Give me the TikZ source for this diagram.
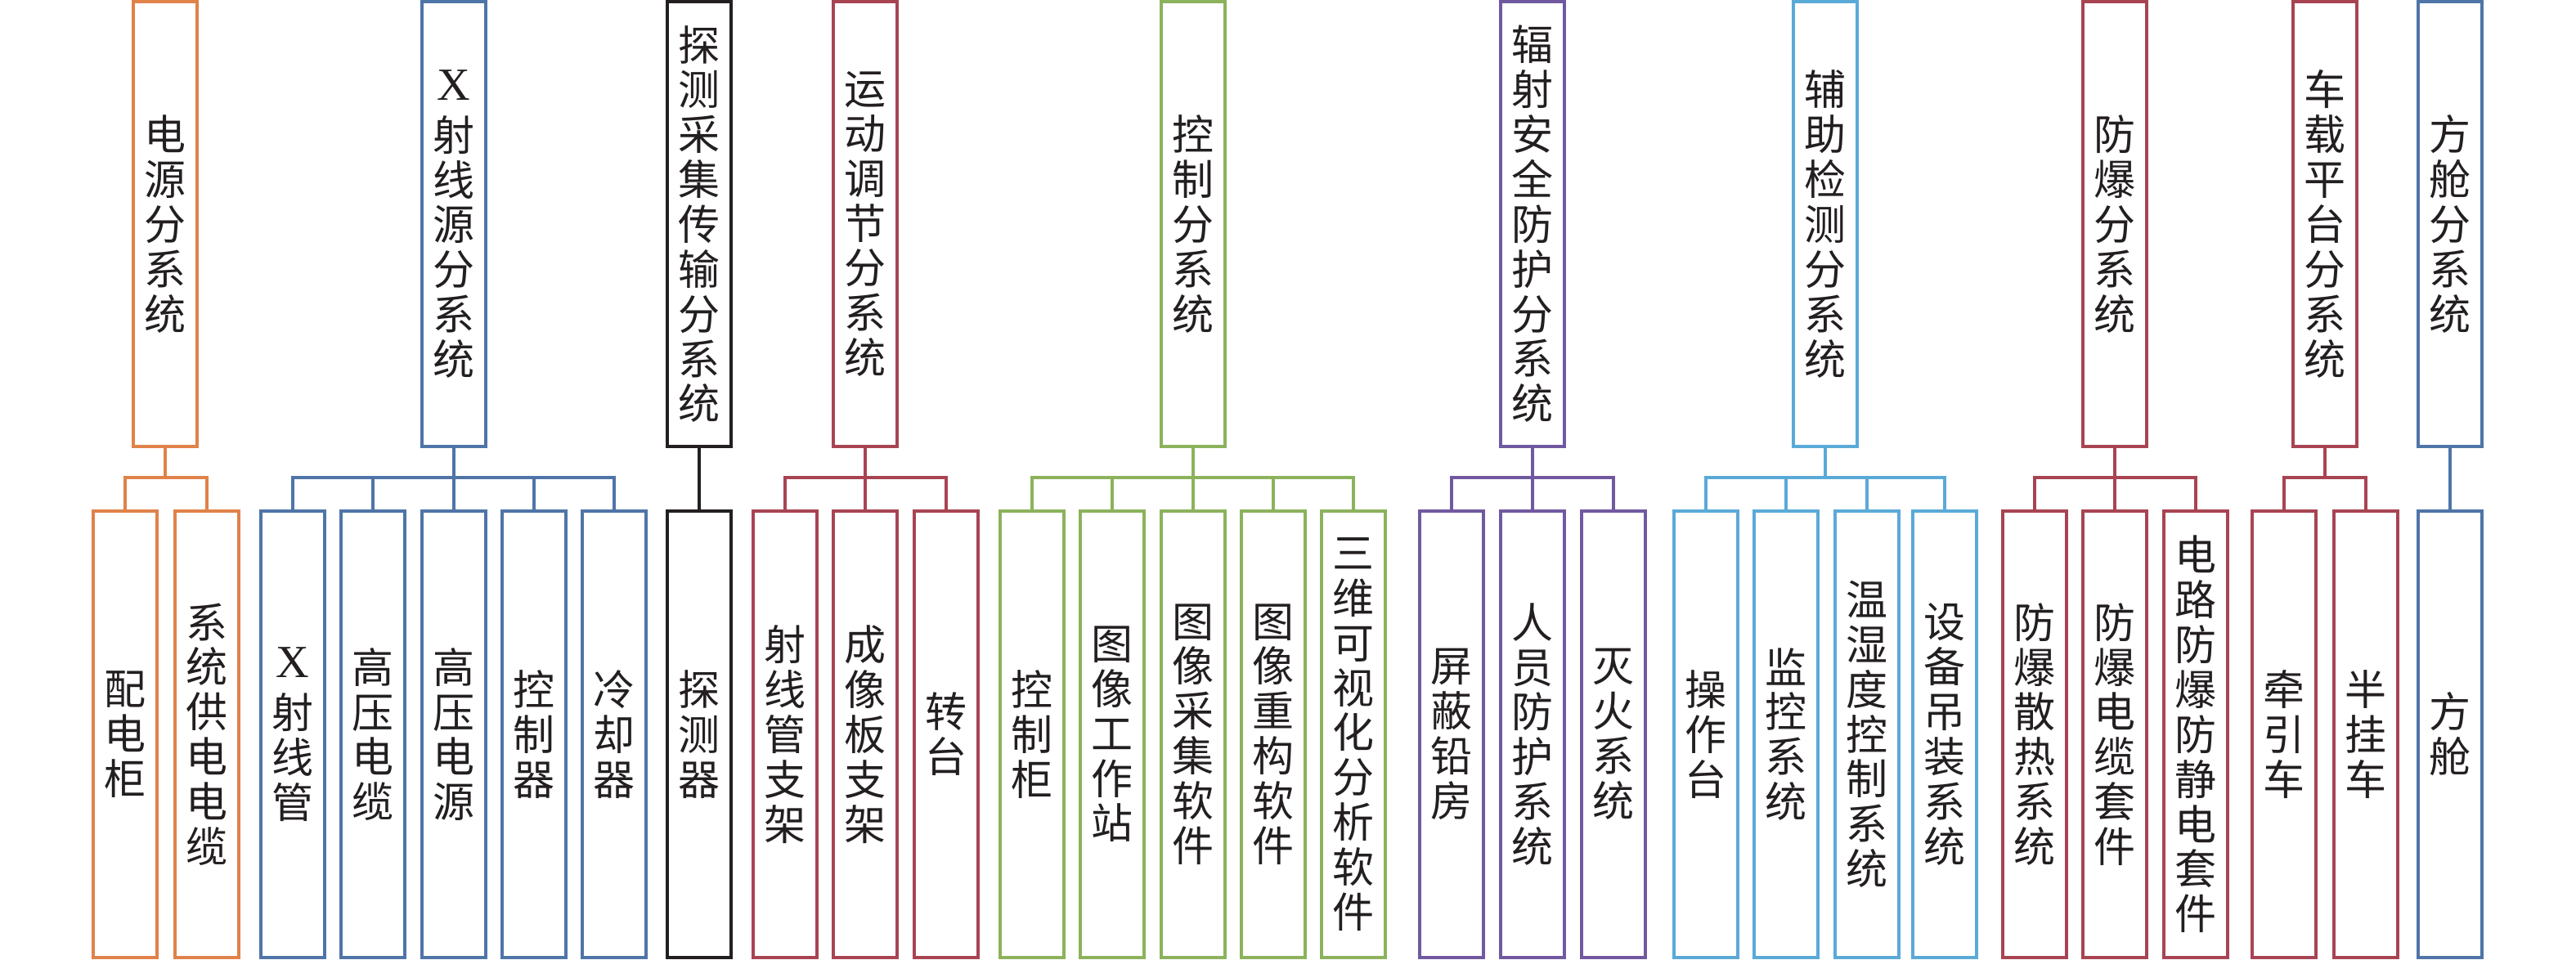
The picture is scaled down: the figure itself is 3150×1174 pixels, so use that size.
\documentclass[tikz,border=0pt]{standalone}
\usepackage{fontspec}
\setmainfont{Liberation Serif}
\newfontfamily\cjk{Noto Sans CJK SC}
\definecolor{orng}{HTML}{E0824A}
\definecolor{blu}{HTML}{4F74A8}
\definecolor{crim}{HTML}{A84452}
\definecolor{grn}{HTML}{8CB25C}
\definecolor{purp}{HTML}{7059A0}
\definecolor{sky}{HTML}{5AAAD8}
\definecolor{ink}{HTML}{231F20}
\tikzset{
  box/.style={draw, line width=1.1pt, minimum width=0.78cm, inner sep=0pt, align=center,
    font=\cjk\fontsize{14.5}{15.6}\selectfont, text=ink},
  topbox/.style={box, minimum height=5.44cm},
  subbox/.style={box, minimum height=5.46cm},
  link/.style={line width=1.1pt}
}

\begin{document}
\begin{tikzpicture}[x=0.01cm, y=-0.01cm]
	\useasboundingbox (0,0) rectangle (3150,1174);

	%%%%% subsystems %%%%%
	\node[topbox, draw=orng] (pw)  at (202,274)  {电\\源\\分\\系\\统};
	\node[topbox, draw=blu]  (xr)  at (555,274)  {\textrm{\fontsize{16}{15.6}\selectfont X}\\[2pt]射\\线\\源\\分\\系\\统};
	\node[topbox, draw=ink]  (det) at (855,274)  {探\\测\\采\\集\\传\\输\\分\\系\\统};
	\node[topbox, draw=crim] (mot) at (1058,274) {运\\动\\调\\节\\分\\系\\统};
	\node[topbox, draw=grn]  (ctl) at (1459,274) {控\\制\\分\\系\\统};
	\node[topbox, draw=purp] (rad) at (1874,274) {辐\\射\\安\\全\\防\\护\\分\\系\\统};
	\node[topbox, draw=sky]  (aux) at (2232,274) {辅\\助\\检\\测\\分\\系\\统};
	\node[topbox, draw=crim] (exp) at (2586,274) {防\\爆\\分\\系\\统};
	\node[topbox, draw=crim] (veh) at (2843,274) {车\\载\\平\\台\\分\\系\\统};
	\node[topbox, draw=blu]  (cab) at (2996,274) {方\\舱\\分\\系\\统};

	%%%%% parts %%%%%
	\node[subbox, draw=orng] (pw1) at (153,898) {配\\电\\柜};
	\node[subbox, draw=orng] (pw2) at (253,898) {系\\统\\供\\电\\电\\缆};

	\node[subbox, draw=blu] (xr1) at (358,898) {\textrm{\fontsize{16}{15.6}\selectfont X}\\[2pt]射\\线\\管};
	\node[subbox, draw=blu] (xr2) at (456,898) {高\\压\\电\\缆};
	\node[subbox, draw=blu] (xr3) at (555,898) {高\\压\\电\\源};
	\node[subbox, draw=blu] (xr4) at (653,898) {控\\制\\器};
	\node[subbox, draw=blu] (xr5) at (751,898) {冷\\却\\器};

	\node[subbox, draw=ink] (det1) at (855,898) {探\\测\\器};

	\node[subbox, draw=crim] (mot1) at (960,898)  {射\\线\\管\\支\\架};
	\node[subbox, draw=crim] (mot2) at (1058,898) {成\\像\\板\\支\\架};
	\node[subbox, draw=crim] (mot3) at (1157,898) {转\\台};

	\node[subbox, draw=grn] (ctl1) at (1262,898) {控\\制\\柜};
	\node[subbox, draw=grn] (ctl2) at (1360,898) {图\\像\\工\\作\\站};
	\node[subbox, draw=grn] (ctl3) at (1459,898) {图\\像\\采\\集\\软\\件};
	\node[subbox, draw=grn] (ctl4) at (1557,898) {图\\像\\重\\构\\软\\件};
	\node[subbox, draw=grn] (ctl5) at (1655,898) {三\\维\\可\\视\\化\\分\\析\\软\\件};

	\node[subbox, draw=purp] (rad1) at (1775,898) {屏\\蔽\\铅\\房};
	\node[subbox, draw=purp] (rad2) at (1874,898) {人\\员\\防\\护\\系\\统};
	\node[subbox, draw=purp] (rad3) at (1973,898) {灭\\火\\系\\统};

	\node[subbox, draw=sky] (aux1) at (2086,898) {操\\作\\台};
	\node[subbox, draw=sky] (aux2) at (2184,898) {监\\控\\系\\统};
	\node[subbox, draw=sky] (aux3) at (2283,898) {温\\湿\\度\\控\\制\\系\\统};
	\node[subbox, draw=sky] (aux4) at (2378,898) {设\\备\\吊\\装\\系\\统};

	\node[subbox, draw=crim] (exp1) at (2488,898) {防\\爆\\散\\热\\系\\统};
	\node[subbox, draw=crim] (exp2) at (2586,898) {防\\爆\\电\\缆\\套\\件};
	\node[subbox, draw=crim] (exp3) at (2685,898) {电\\路\\防\\爆\\防\\静\\电\\套\\件};

	\node[subbox, draw=crim] (veh1) at (2793,898) {牵\\引\\车};
	\node[subbox, draw=crim] (veh2) at (2893,898) {半\\挂\\车};

	\node[subbox, draw=blu] (cab1) at (2996,898) {方\\舱};

	%%%%% branches %%%%%
	\foreach \p/\col/\kids in {pw/orng/{pw1,pw2}, xr/blu/{xr1,xr2,xr3,xr4,xr5}, det/ink/{det1},
	    mot/crim/{mot1,mot2,mot3}, ctl/grn/{ctl1,ctl2,ctl3,ctl4,ctl5}, rad/purp/{rad1,rad2,rad3},
	    aux/sky/{aux1,aux2,aux3,aux4}, exp/crim/{exp1,exp2,exp3}, veh/crim/{veh1,veh2}, cab/blu/{cab1}}{
		\draw[link, \col] (\p.south) -- ++(0,36) coordinate (\p-bus);
		\foreach \k in \kids
			\draw[link, \col] (\p-bus) -| (\k.north);
	}
\end{tikzpicture}
\end{document}
